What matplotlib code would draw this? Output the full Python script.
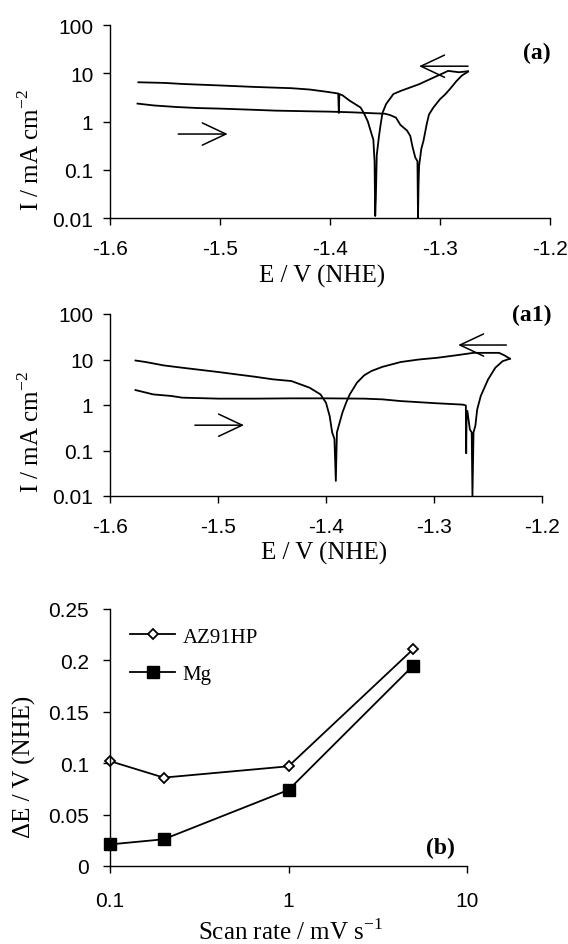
import matplotlib
matplotlib.use("Agg")
import matplotlib.pyplot as plt
from matplotlib.ticker import FixedLocator, NullLocator, FixedFormatter

SANS = "Liberation Sans"
SERIF = "Liberation Serif"

# polarisation curves, AZ91HP (a): forward scan then reverse scan
a_fwd_E = [-1.575, -1.560, -1.540, -1.520, -1.500, -1.470, -1.450, -1.420, -1.400, -1.380,
           -1.360, -1.350, -1.345, -1.340, -1.336, -1.330, -1.327, -1.325, -1.3225, -1.3205,
           -1.3200, -1.3195, -1.319, -1.317, -1.315, -1.312, -1.310, -1.306, -1.300, -1.295,
           -1.290, -1.285, -1.280, -1.2745]
a_fwd_I = [2.35, 2.15, 2.0, 1.9, 1.85, 1.75, 1.68, 1.63, 1.6, 1.55,
           1.48, 1.45, 1.35, 1.2, 0.85, 0.65, 0.5, 0.3, 0.18, 0.15,
           0.01, 0.05, 0.12, 0.27, 0.4, 0.9, 1.4, 1.95, 2.9, 3.7,
           5.0, 6.9, 9.0, 10.8]
a_rev_E = [-1.2745, -1.2828, -1.2927, -1.2960, -1.3026, -1.3192, -1.3358, -1.3424, -1.3490, -1.3523,
           -1.3540, -1.3556, -1.3575, -1.3583, -1.3589, -1.3595, -1.3606, -1.3623, -1.3656, -1.3689,
           -1.3722, -1.3821, -1.3887, -1.3915, -1.3920, -1.3925, -1.4020, -1.4185, -1.4350, -1.4682,
           -1.5013, -1.5344, -1.5500, -1.5742]
a_rev_I = [11.0, 10.5, 11.2, 10.3, 8.8, 5.9, 4.3, 3.7, 2.3, 1.5,
           0.86, 0.47, 0.2, 0.027, 0.011, 0.15, 0.42, 0.56, 1.0, 1.45,
           1.95, 2.7, 3.5, 3.7, 1.5, 3.8, 4.1, 4.6, 4.9, 5.2,
           5.6, 6.0, 6.3, 6.5]

# polarisation curves, Mg (a1)
a1_fwd_E = [-1.5764, -1.560, -1.5433, -1.5332, -1.4995, -1.4658, -1.432, -1.3983, -1.3646, -1.3477,
            -1.3309, -1.2971, -1.2735, -1.2705, -1.2702, -1.2698, -1.2691, -1.2668, -1.2651, -1.2644,
            -1.2634, -1.2617, -1.2600, -1.2567, -1.2499, -1.2432, -1.2364, -1.2297]
a1_fwd_I = [2.13, 1.71, 1.58, 1.45, 1.38, 1.38, 1.4, 1.4, 1.38, 1.33,
            1.22, 1.09, 1.02, 0.98, 0.087, 0.7, 0.74, 0.29, 0.25, 0.01,
            0.25, 0.35, 0.8, 1.58, 3.66, 6.6, 9.2, 10.4]
a1_rev_E = [-1.2297, -1.2347, -1.2398, -1.2634, -1.2803, -1.2971, -1.3140, -1.3309, -1.3477, -1.3578,
            -1.3646, -1.3713, -1.3780, -1.3814, -1.3848, -1.3882, -1.3899, -1.3909, -1.3922, -1.3943,
            -1.3966, -1.4000, -1.4051, -1.4152, -1.4320, -1.4489, -1.4658, -1.4826, -1.4995, -1.5332,
            -1.5500, -1.5669, -1.5764]
a1_rev_I = [10.4, 12.3, 14.0, 14.0, 12.3, 10.9, 10.0, 8.8, 6.9, 5.6,
            4.5, 3.1, 1.71, 1.12, 0.68, 0.35, 0.25, 0.0215, 0.18, 0.25,
            0.57, 1.12, 1.71, 2.4, 3.36, 3.66, 4.18, 4.7, 5.3, 6.6,
            7.4, 8.8, 9.5]

# potential difference vs scan rate (b)
scan_rate = [0.1, 0.2, 1, 5]
dE_az91hp = [0.102, 0.086, 0.097, 0.211]
dE_mg = [0.021, 0.026, 0.074, 0.195]

log_ticks = [0.01, 0.1, 1, 10, 100]
log_labels = ["0.01", "0.1", "1", "10", "100"]
E_ticks = [-1.6, -1.5, -1.4, -1.3, -1.2]
E_labels = ["-1.6", "-1.5", "-1.4", "-1.3", "-1.2"]

W, H = 568, 945
fig = plt.figure(figsize=(W / 100, H / 100), dpi=100)


def box(left, top, right, bottom):
    return [left / W, 1 - bottom / H, (right - left) / W, (bottom - top) / H]


def style(ax, xpad=10, ypad=7):
    for s in ("top", "right"):
        ax.spines[s].set_visible(False)
    for s in ("left", "bottom"):
        ax.spines[s].set_linewidth(1.0)
    ax.tick_params(direction="out", length=5, width=1.0, labelsize=15)
    ax.tick_params(axis="x", pad=xpad)
    ax.tick_params(axis="y", pad=ypad)
    for lab in ax.get_xticklabels() + ax.get_yticklabels():
        lab.set_fontfamily(SANS)


def arrow(ax, tail, head):
    ax.annotate("", xy=head, xytext=tail,
                arrowprops=dict(arrowstyle="->,head_length=0.85,head_width=0.4",
                                mutation_scale=20, lw=1.1, color="k",
                                shrinkA=0, shrinkB=0))


def polar_panel(ax, fwd, rev):
    ax.plot(*fwd, color="k", lw=1.3)
    ax.plot(*rev, color="k", lw=1.3)
    ax.set_yscale("log")
    ax.set_ylim(0.01, 100)
    ax.set_xlim(-1.6, -1.2)
    ax.yaxis.set_major_locator(FixedLocator(log_ticks))
    ax.yaxis.set_major_formatter(FixedFormatter(log_labels))
    ax.yaxis.set_minor_locator(NullLocator())
    ax.xaxis.set_major_locator(FixedLocator(E_ticks))
    ax.xaxis.set_major_formatter(FixedFormatter(E_labels))
    style(ax)


ax_a = fig.add_axes(box(110, 26, 550, 219))
polar_panel(ax_a, (a_fwd_E, a_fwd_I), (a_rev_E, a_rev_I))
arrow(ax_a, (-1.538, 0.55), (-1.493, 0.55))
arrow(ax_a, (-1.2745, 14), (-1.319, 14))

ax_a1 = fig.add_axes(box(110, 315, 542, 497))
polar_panel(ax_a1, (a1_fwd_E, a1_fwd_I), (a1_rev_E, a1_rev_I))
arrow(ax_a1, (-1.5214, 0.36), (-1.4759, 0.36))
arrow(ax_a1, (-1.233, 20.8), (-1.2776, 20.8))

ax_b = fig.add_axes(box(110, 610, 467, 867))
ax_b.plot(scan_rate, dE_az91hp, color="k", lw=1.3, marker="D", markersize=5.5,
          markerfacecolor="white", markeredgecolor="k", markeredgewidth=1.3,
          label="AZ91HP", clip_on=False)
ax_b.plot(scan_rate, dE_mg, color="k", lw=1.3, marker="s", markersize=8,
          markerfacecolor="k", markeredgecolor="k", label="Mg", clip_on=False)
ax_b.set_xscale("log")
ax_b.set_xlim(0.1, 10)
ax_b.set_ylim(0, 0.25)
ax_b.xaxis.set_major_locator(FixedLocator([0.1, 1, 10]))
ax_b.xaxis.set_major_formatter(FixedFormatter(["0.1", "1", "10"]))
ax_b.xaxis.set_minor_locator(NullLocator())
ax_b.yaxis.set_major_locator(FixedLocator([0, 0.05, 0.1, 0.15, 0.2, 0.25]))
ax_b.yaxis.set_major_formatter(FixedFormatter(["0", "0.05", "0.1", "0.15", "0.2", "0.25"]))
style(ax_b, xpad=13, ypad=10)
ax_b.legend(loc="upper left", bbox_to_anchor=(0.055, 0.93), frameon=False,
            borderaxespad=0, borderpad=0, handlelength=2.2, handletextpad=0.35,
            labelspacing=0.85, prop={"family": SERIF, "size": 15})


def ftext(x, y, s, **kw):
    fig.text(x / W, 1 - y / H, s, ha="center", va="center", family=SERIF, **kw)


ylab_I = r"I / mA cm$^{\mathregular{-2}}$"
ftext(31, 150, ylab_I, rotation=90, size=18)
ftext(322, 276, "E / V (NHE)", size=18)
ftext(31, 432, ylab_I, rotation=90, size=18)
ftext(324, 553, "E / V (NHE)", size=18)
ftext(24, 767, "ΔE / V (NHE)", rotation=90, size=18)
ftext(291, 932, r"Scan rate / mV s$^{\mathregular{-1}}$", size=18)

ftext(537, 53, "(a)", size=17, weight="bold")
ftext(532, 315, "(a1)", size=17, weight="bold")
ftext(440, 848, "(b)", size=17, weight="bold")

fig.savefig("out.png", dpi=100)
